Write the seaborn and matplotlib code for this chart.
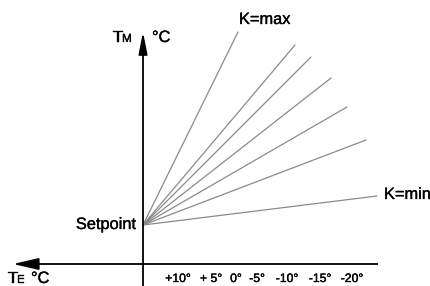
import matplotlib
matplotlib.use("Agg")
import matplotlib.pyplot as plt
import matplotlib.patheffects as pe
import seaborn as sns
import pandas as pd

sns.set_theme(style="white")
plt.rcParams['font.family'] = ['Liberation Sans', 'DejaVu Sans']

# ---- data (diagram units, y up) ----
curve_names = ["K=max", "k2", "k3", "k4", "k5", "k6", "K=min"]
setpoint_xy = (143, 61)
curve_end_x = [238, 295, 311, 331, 347, 366, 377]
curve_end_y = [254, 241, 229, 208, 179, 146, 90]
tick_labels = ["+10°", "+ 5°", "0°", "-5°", "-10°", "-15°", "-20°"]
tick_pos = [178, 211, 236, 257, 287, 320, 352]

rows = []
for name, ex, ey in zip(curve_names, curve_end_x, curve_end_y):
    rows.append({"curve": name, "x": setpoint_xy[0], "y": setpoint_xy[1]})
    rows.append({"curve": name, "x": ex, "y": ey})
df = pd.DataFrame(rows)

fig = plt.figure(figsize=(4.3, 2.86), dpi=100)
ax = fig.add_axes([0, 0, 1, 1])
ax.set_xlim(0, 430)
ax.set_ylim(0, 286)
ax.axis("off")

sns.lineplot(data=df, x="x", y="y", units="curve", estimator=None,
             color="#8a8a8a", linewidth=0.9, ax=ax, legend=False, sort=False)

# axes arrows
ax_x0 = 143
ax_y0 = 22
ax.plot([ax_x0, ax_x0], [0, 242], color="black", lw=1.3, solid_capstyle="butt")
ax.annotate("", xy=(ax_x0, 254), xytext=(ax_x0, 238),
            arrowprops=dict(arrowstyle="-|>,head_length=1.1,head_width=0.22",
                            color="black", lw=1.3, shrinkA=0, shrinkB=0))
ax.plot([26, 378], [ax_y0, ax_y0], color="black", lw=1.3, solid_capstyle="butt")
ax.annotate("", xy=(13, ax_y0), xytext=(30, ax_y0),
            arrowprops=dict(arrowstyle="-|>,head_length=1.3,head_width=0.3",
                            color="black", lw=1.3, shrinkA=0, shrinkB=0))

fx = [pe.withStroke(linewidth=0.25, foreground="black")]
fs = 11.8
tfs = 8.8
kw = dict(color="black", va="baseline", path_effects=fx)
ax.text(113, 244, "T", fontsize=fs, ha="left", **kw)
ax.text(122, 244, "M", fontsize=8.5, ha="left", **kw)
ax.text(152, 244, "°C", fontsize=fs, ha="left", **kw)
ax.text(239, 262, "K=max", fontsize=fs, ha="left", **kw)
ax.text(384, 87, "K=min", fontsize=fs, ha="left", **kw)
ax.text(136, 57, "Setpoint", fontsize=fs, ha="right", **kw)
ax.text(8, 3, "T", fontsize=fs, ha="left", **kw)
ax.text(17, 3, "E", fontsize=8.5, ha="left", **kw)
ax.text(31, 3, "°C", fontsize=fs, ha="left", **kw)

for lab, p in zip(tick_labels, tick_pos):
    ax.text(p, 4, lab, fontsize=tfs, ha="center", **kw)

fig.savefig("out.png", dpi=100)
